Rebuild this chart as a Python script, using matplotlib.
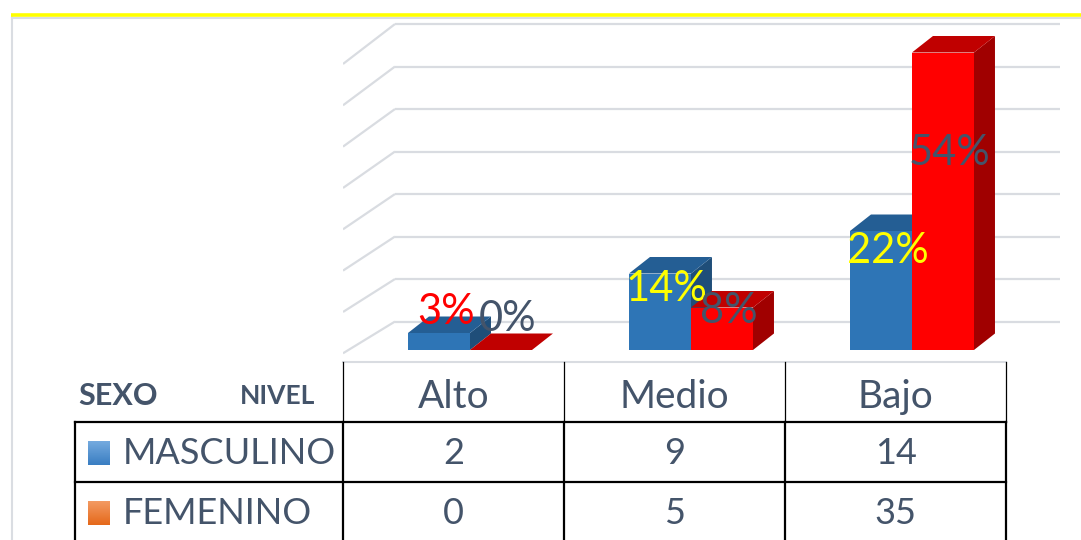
import numpy as np
import matplotlib.pyplot as plt
from matplotlib.colors import LinearSegmentedColormap
from matplotlib.patches import Polygon, Rectangle

plt.rcParams['font.family'] = ['Lato', 'DejaVu Sans']

niveles = ["Alto", "Medio", "Bajo"]
masculino = [2, 9, 14]
femenino = [0, 5, 35]
series_names = ["MASCULINO", "FEMENINO"]

total = sum(masculino) + sum(femenino)
pct_masc = [round(100 * v / total) for v in masculino]
pct_fem = [round(100 * v / total) for v in femenino]

# label heights (chart units) as Excel placed them
lab_y_masc = [4.5, 7.2, 11.6]
lab_y_fem = [3.6, 4.6, 23.2]
lab_col_masc = ["#FF0000", "#FFFF00", "#FFFF00"]
lab_col_fem = ["#44546A", "#44546A", "#44546A"]

W, H = 1081, 540
fig = plt.figure(figsize=(W / 100, H / 100), dpi=100)
fig.patch.set_facecolor("white")

# overlay in pixel coords for frame + table
ov = fig.add_axes([0, 0, 1, 1])
ov.set_xlim(0, W)
ov.set_ylim(H, 0)
ov.axis("off")

# chart axes: 221 px per category, 8.5 px per unit, 0 at y=350px
px_cat, px_unit = 221.0, 8.5
left_px, right_px, top_px, bot_px = 343, 1060, 18, 362
ax = fig.add_axes([left_px / W, (H - bot_px) / H, (right_px - left_px) / W, (bot_px - top_px) / H])
ax.set_xlim(-0.5, -0.5 + (right_px - left_px) / px_cat)
ax.set_ylim((350 - bot_px) / px_unit, (350 - top_px) / px_unit)
ax.axis("off")
ax.patch.set_alpha(0)

grid_c = "#D9DCE1"
back_x = -0.5 + 52 / px_cat
back_dy = -1.65
for v in range(0, 45, 5):
    yb = v + back_dy
    yf = yb - (3.6 + 1.1 * v / 40)
    ax.plot([-0.5, back_x], [yf, yb], color=grid_c, lw=1.6, zorder=1, solid_capstyle="butt")
    ax.plot([back_x, ax.get_xlim()[1]], [yb, yb], color=grid_c, lw=1.6, zorder=1, solid_capstyle="butt")

bw = 62 / px_cat
ddx, ddy = 21 / px_cat, 16.5 / px_unit


def bar3d(x, v, front, top, side, z):
    ax.add_patch(Polygon([(x + bw, 0), (x + bw + ddx, ddy), (x + bw + ddx, v + ddy), (x + bw, v)],
                         closed=True, facecolor=side, edgecolor="none", zorder=z))
    ax.add_patch(Polygon([(x, v), (x + bw, v), (x + bw + ddx, v + ddy), (x + ddx, v + ddy)],
                         closed=True, facecolor=top, edgecolor="none", zorder=z))
    if v > 0:
        ax.add_patch(Rectangle((x, 0), bw, v, facecolor=front, edgecolor="none", zorder=z))


for i in range(len(niveles)):
    xm = i - 0.206
    xf = xm + bw
    bar3d(xm, masculino[i], "#2E75B6", "#245E94", "#1F4E79", 3 + 2 * i)
    bar3d(xf, femenino[i], "#FF0000", "#C00000", "#A00000", 4 + 2 * i)
    ax.text(xm + bw / 2 + 0.03, lab_y_masc[i], f"{pct_masc[i]}%", color=lab_col_masc[i],
            fontsize=30, ha="center", va="center", zorder=20)
    ax.text(xf + bw / 2 + 0.03, lab_y_fem[i], f"{pct_fem[i]}%", color=lab_col_fem[i],
            fontsize=30, ha="center", va="center", zorder=20)

# chart frame + yellow rule
ov.plot([12, 12], [17, H], color="#DADDE2", lw=1.5)
ov.plot([12, W], [17.5, 17.5], color="#DADDE2", lw=1.5)
ov.plot([11, W], [14.5, 14.5], color="#FFFF00", lw=2.6, solid_capstyle="butt")

# data table
txt_c = "#44546A"
col0 = 75
cat_edges = [left_px + px_cat * k for k in range(len(niveles) + 1)]
row_edges = [362, 422, 482, 542]

ov.plot([cat_edges[0], cat_edges[-1]], [362, 362], color="#D9DCE1", lw=1.5)
for x in cat_edges:
    ov.plot([x, x], [362, 422], color="black", lw=0.9)
    ov.plot([x, x], [422, H], color="black", lw=1.6)
ov.plot([col0, col0], [422, H], color="black", lw=1.6)
for y in row_edges[1:3]:
    ov.plot([col0, cat_edges[-1]], [y, y], color="black", lw=1.6)

ov.text(78, 396, "SEXO", fontsize=22, fontweight="bold", color=txt_c, va="center", ha="left")
ov.text(315, 396, "NIVEL", fontsize=19, fontweight="bold", color=txt_c, va="center", ha="right")
for i, n in enumerate(niveles):
    cx = (cat_edges[i] + cat_edges[i + 1]) / 2
    ov.text(cx, 397, n, fontsize=28, color=txt_c, ha="center", va="center")

swatch = [("#74AADF", "#3A7EC2"), ("#F39A62", "#E5691B")]
grad = np.linspace(0, 1, 32).reshape(-1, 1)
for r, (name, vals) in enumerate(zip(series_names, [masculino, femenino])):
    cy = (row_edges[r + 1] + row_edges[r + 2]) / 2 + 1
    cmap = LinearSegmentedColormap.from_list(f"sw{r}", list(swatch[r]))
    ov.imshow(grad, cmap=cmap, extent=(88, 110, cy + 12, cy - 12), aspect="auto",
              interpolation="bilinear", zorder=2)
    ov.text(123, cy, name, fontsize=26, color=txt_c, ha="left", va="center")
    for i, v in enumerate(vals):
        cx = (cat_edges[i] + cat_edges[i + 1]) / 2
        ov.text(cx, cy, str(v), fontsize=26, color=txt_c, ha="center", va="center")
ov.set_xlim(0, W)
ov.set_ylim(H, 0)

fig.savefig("out.png", dpi=100)
